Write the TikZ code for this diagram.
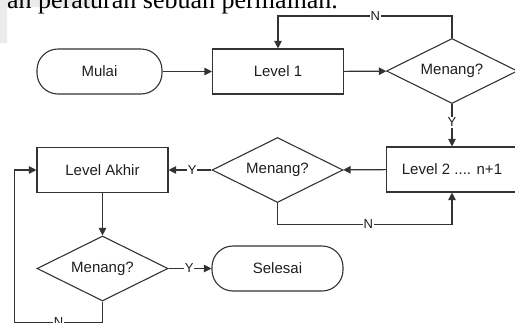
\documentclass[tikz,border=0pt]{standalone}
\usepackage{fontspec}
\setmainfont{Liberation Sans}
\newfontfamily\pageserif{Liberation Serif}
\usetikzlibrary{shapes.geometric,arrows.meta}
\definecolor{flowline}{HTML}{333333}
\definecolor{flowtext}{HTML}{1E1E1E}
\definecolor{pagegray}{HTML}{EBEBEB}

\begin{document}
\begin{tikzpicture}[x=1pt,y=-1pt]
\tikzstyle{box}=[draw=flowline,line width=1.1pt,text=flowtext,font=\fontsize{15}{18}\selectfont,minimum width=131pt,minimum height=45pt,inner sep=0pt]
\tikzstyle{term}=[box,rounded corners=21pt]
\tikzstyle{cond}=[box,diamond,aspect=2,minimum height=65pt]
\tikzstyle{lbl}=[fill=white,text=flowtext,font=\fontsize{13}{15}\selectfont,inner sep=1pt]
\tikzstyle{arr}=[draw=flowline,line width=1.1pt,-{Triangle[length=7.5pt,width=7.5pt]}]
\useasboundingbox (0,0) rectangle (515,322);
\clip (0,0) rectangle (515,322);

% page around the figure
\fill[pagegray] (0,0) -- (97,0) -- (97,7) -- (7,7) -- (7,43) -- (0,43) -- cycle;
\node[anchor=base east,inner sep=0pt,font=\pageserif\fontsize{26}{30}\selectfont] (txt) at (338,8) {an peraturan sebuah permainan.};

\draw (99.5,71.5) node [term,minimum width=125pt] (mulai) {Mulai};
\draw (278,71.5) node [box]   (lv1) {Level 1};
\draw (452,71) node [cond]    (win1) {Menang?};
\draw (452,169.5) node [box]  (lv2) {Level 2 .... n+1};
\draw (277.5,170) node [cond] (win2) {Menang?};
\draw (102.5,170) node [box]  (akhir) {Level Akhir};
\draw (102.5,268.5) node [cond] (win3) {Menang?};
\draw (277.5,268.5) node [term] (selesai) {Selesai};

\draw (mulai) edge [arr] (lv1);
\draw (lv1) edge [arr] (win1);
\draw (win1) edge [arr] node [lbl,pos=0.43] {Y} (lv2);
\draw (lv2) edge [arr] (win2);
\draw (win2) edge [arr] node [lbl,pos=0.45] {Y} (akhir);
\draw (akhir) edge [arr] (win3);
\draw (win3) edge [arr] node [lbl,pos=0.48] {Y} (selesai);

\draw [arr] (win1.north) -- ++(0,-22) -| node [lbl,pos=0.22] {N} (lv1.north);
\draw [arr] (win2.south) -- ++(0,21) -| node [lbl,pos=0.26] {N} (lv2.south);
\draw [arr] (win3.south) -- ++(0,20.5) -| node [lbl,pos=0.25] {N} ([xshift=-22pt]akhir.west) -- (akhir.west);
\end{tikzpicture}
\end{document}
